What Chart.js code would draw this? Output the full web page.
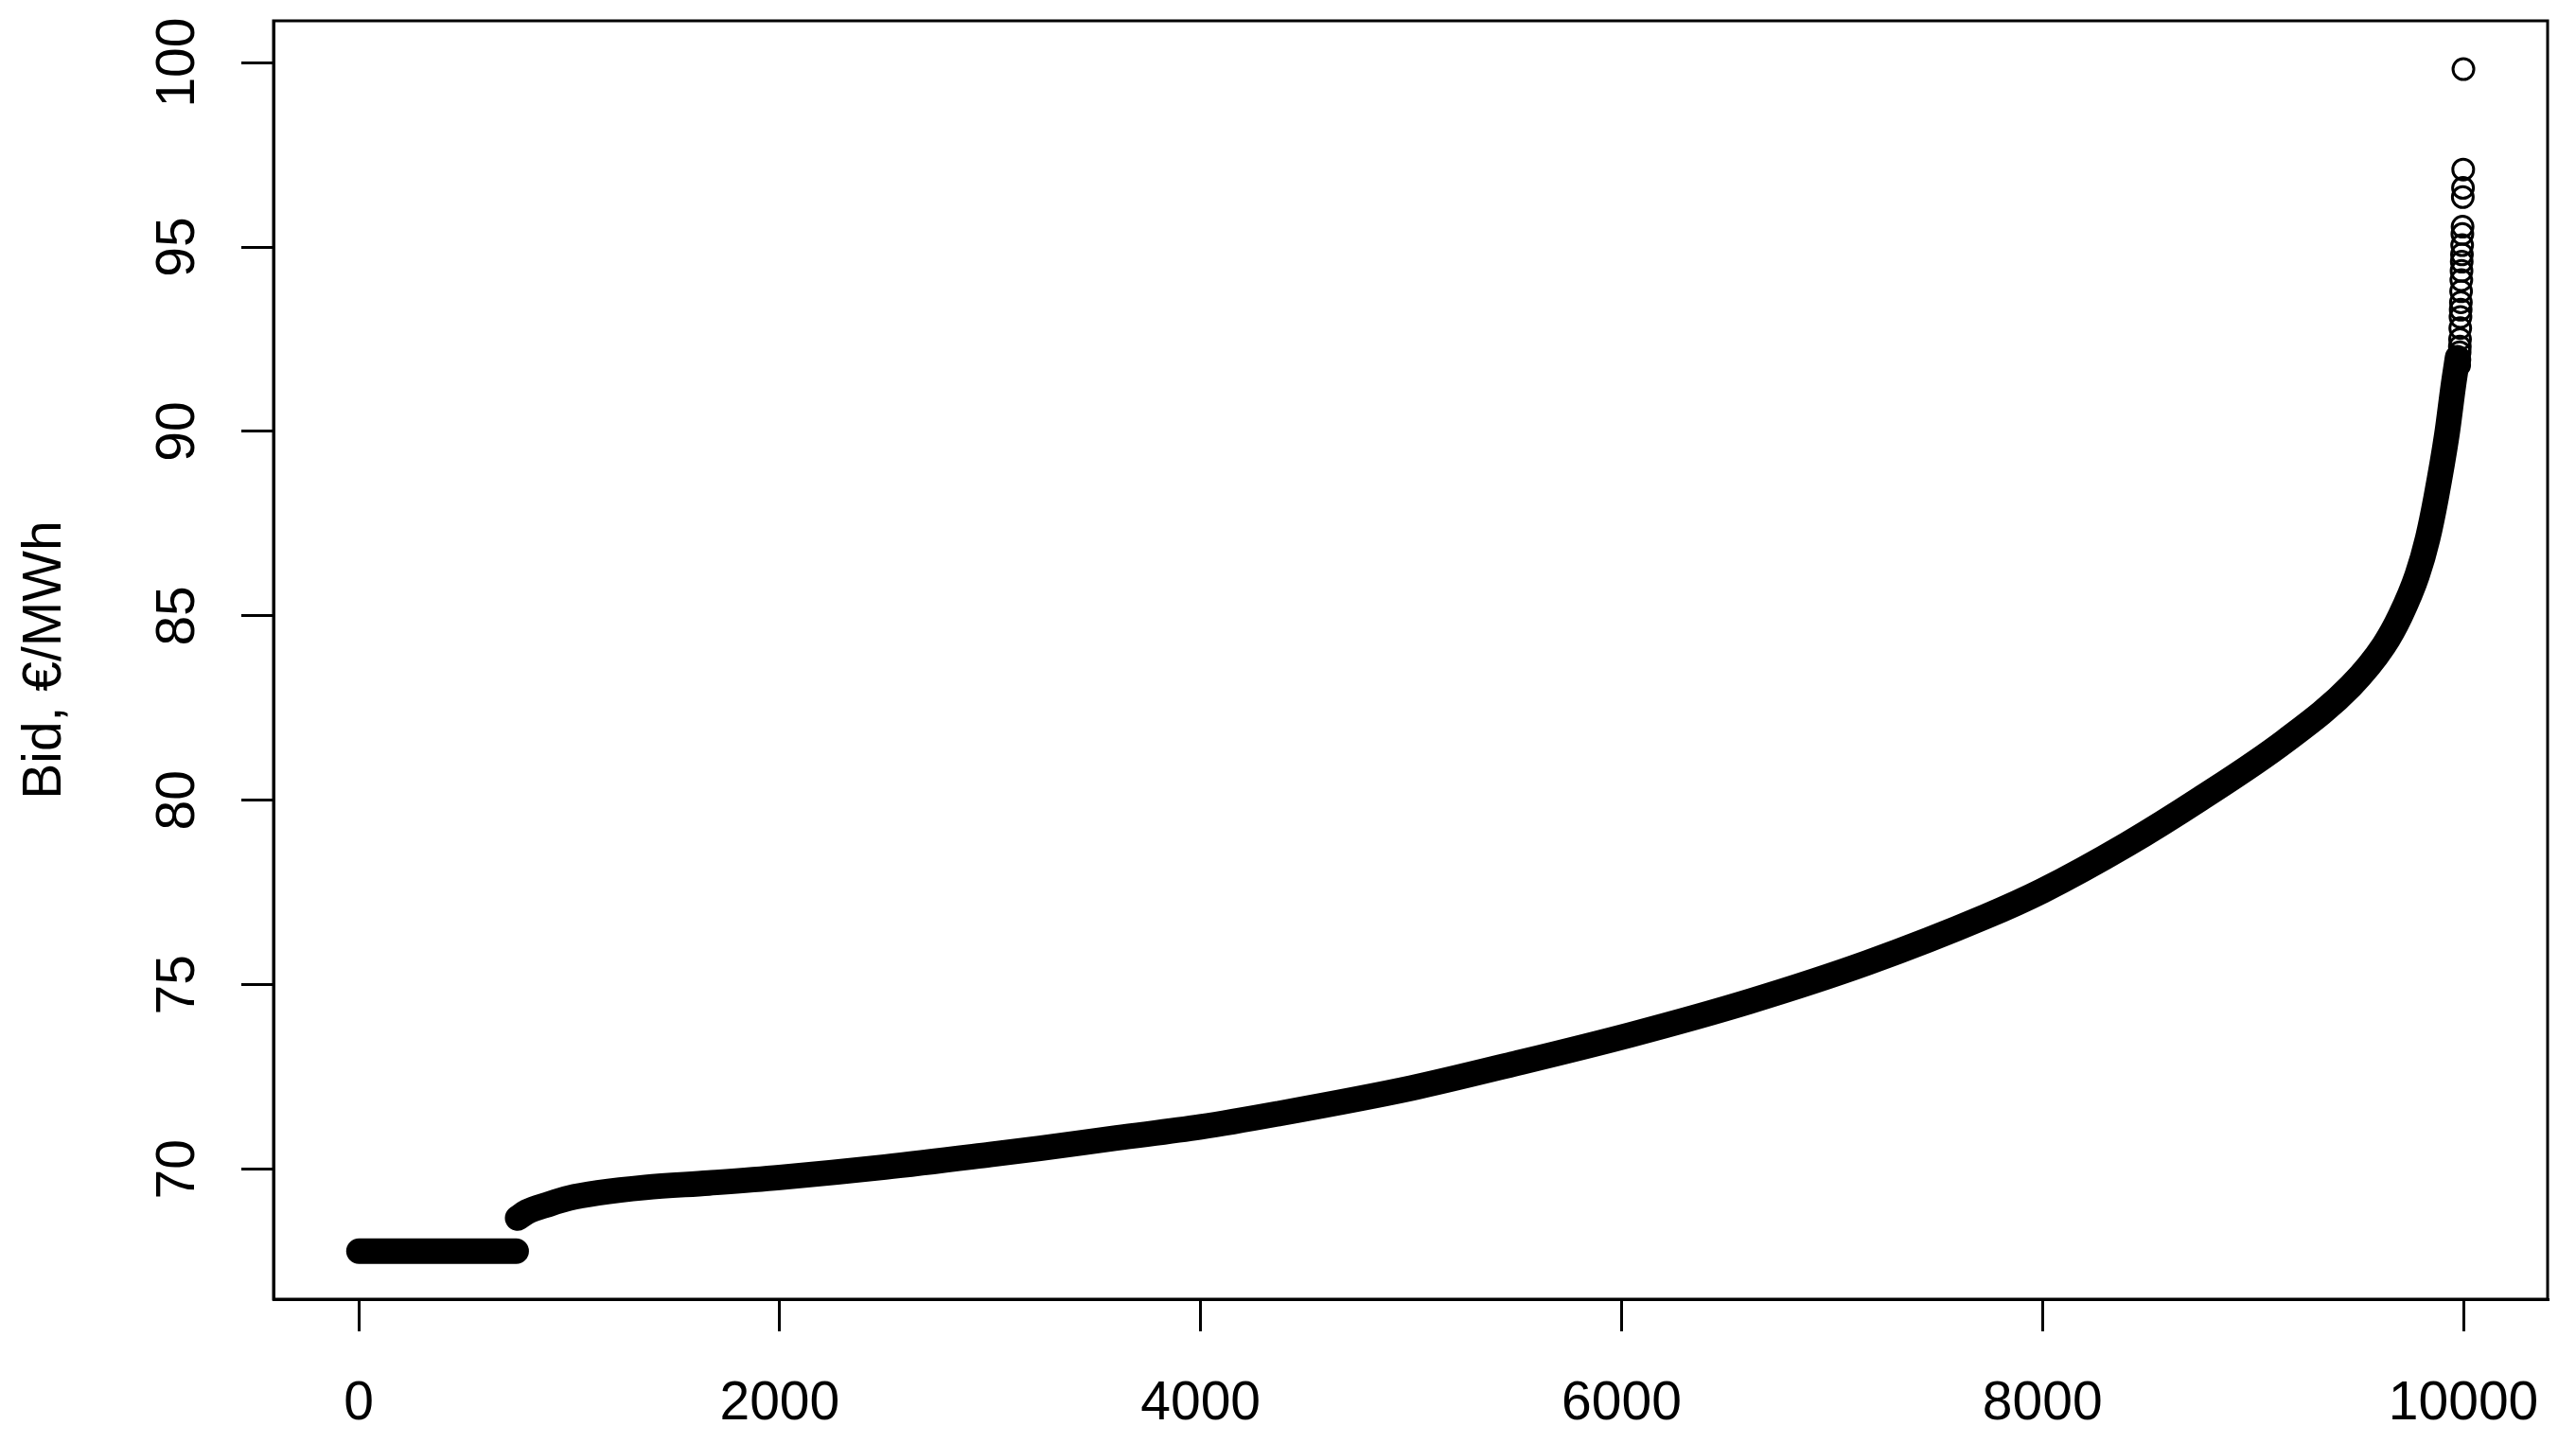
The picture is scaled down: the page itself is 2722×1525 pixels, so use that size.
<!DOCTYPE html>
<html><head><meta charset="utf-8">
<script src="https://cdn.jsdelivr.net/npm/chart.js@4"></script>
<style>html,body{margin:0;padding:0;background:#fff;overflow:hidden}</style>
</head><body>
<canvas id="c" width="2722" height="1525" style="width:2722px;height:1525px;display:block"></canvas>
<script>
const xTicks = [0, 2000, 4000, 6000, 8000, 10000];
const yTicks = [70, 75, 80, 85, 90, 95, 100];
const yTitle = 'Bid, €/MWh';

// flat block of lowest bids
const flatRank = [1, 748];
const flatBid  = [67.78, 67.78];

// dense sorted-bid curve (read along the band centre)
const curveRank = [755, 800, 900, 1000, 1137, 1362, 1663, 2000, 2500, 3000, 3236, 3600, 4000, 4360, 5000, 5483, 6045, 6607, 7169, 7730, 8000, 8400, 8752, 9151, 9465, 9622, 9700, 9780, 9830, 9870, 9921, 9953, 9972];
const curveBid  = [68.68, 68.85, 69.05, 69.22, 69.36, 69.51, 69.63, 69.78, 70.06, 70.4, 70.57, 70.85, 71.15, 71.5, 72.2, 72.85, 73.65, 74.55, 75.6, 76.85, 77.55, 78.8, 80.05, 81.6, 83.1, 84.2, 85.0, 86.1, 87.1, 88.2, 89.9, 91.28, 92.0];

// sparse highest bids, visible as separate circles
const tailRank = [9980, 9981, 9982, 9983, 9984, 9985, 9986, 9987, 9988, 9989, 9990, 9991, 9992, 9993, 9994, 9995, 9996, 9997, 9998, 9999, 10000];
const tailBid  = [91.8, 91.95, 92.15, 92.3, 92.5, 92.8, 93.1, 93.3, 93.5, 93.8, 94.1, 94.35, 94.6, 94.8, 95.05, 95.35, 95.55, 96.35, 96.6, 97.1, 99.82];

function pts(xs, ys) { return xs.map((x, i) => ({x: x, y: ys[i]})); }

const FONT = '"Liberation Sans", Arial, Helvetica, sans-serif';
const frame = {
  id: 'frame',
  afterDraw(chart) {
    const a = chart.chartArea, ctx = chart.ctx;
    ctx.save();
    ctx.strokeStyle = '#000';
    ctx.lineWidth = 3;
    ctx.strokeRect(a.left, a.top, a.right - a.left, a.bottom - a.top);
    ctx.restore();
  }
};

new Chart(document.getElementById('c'), {
  type: 'scatter',
  data: {
    datasets: [
      {data: pts(tailRank, tailBid), showLine: false, pointRadius: 11, pointBorderWidth: 3,
       pointBorderColor: '#000', pointBackgroundColor: 'rgba(0,0,0,0)', pointStyle: 'circle'},
      {data: pts(flatRank, flatBid), showLine: true, borderColor: '#000', borderWidth: 27,
       borderCapStyle: 'round', borderJoinStyle: 'round', pointRadius: 0},
      {data: pts(curveRank, curveBid), showLine: true, borderColor: '#000', borderWidth: 27,
       borderCapStyle: 'round', borderJoinStyle: 'round', cubicInterpolationMode: 'monotone', pointRadius: 0}
    ]
  },
  options: {
    responsive: false,
    devicePixelRatio: 1,
    animation: false,
    events: [],
    layout: {padding: {top: 22, right: 30, left: 0, bottom: 0}},
    plugins: {legend: {display: false}, tooltip: {enabled: false}},
    scales: {
      x: {
        type: 'linear', min: -405, max: 10400,
        afterBuildTicks(s) { s.ticks = xTicks.map(v => ({value: v})); },
        afterFit(s) { s.height = 152; s.paddingLeft = 0; s.paddingRight = 0; },
        grid: {drawOnChartArea: false, drawTicks: true, tickLength: 34, color: '#000', lineWidth: 3},
        border: {display: true, color: '#000', width: 3},
        ticks: {color: '#000', font: {family: FONT, size: 57}, padding: 43, minRotation: 0, maxRotation: 0,
                callback: v => String(v)}
      },
      y: {
        type: 'linear', min: 66.48, max: 101.13,
        afterBuildTicks(s) { s.ticks = yTicks.map(v => ({value: v})); },
        afterFit(s) { s.width = 289; s.paddingTop = 0; s.paddingBottom = 0; },
        grid: {drawOnChartArea: false, drawTicks: true, tickLength: 34, color: '#000', lineWidth: 3},
        border: {display: true, color: '#000', width: 3},
        ticks: {color: '#000', font: {family: FONT, size: 57}, padding: 18, minRotation: 90, maxRotation: 90,
                crossAlign: 'center', callback: v => String(v)},
        title: {display: true, text: yTitle, color: '#000', font: {family: FONT, size: 57},
                padding: {top: 14, bottom: 0}}
      }
    }
  },
  plugins: [frame]
});
</script>
</body></html>
